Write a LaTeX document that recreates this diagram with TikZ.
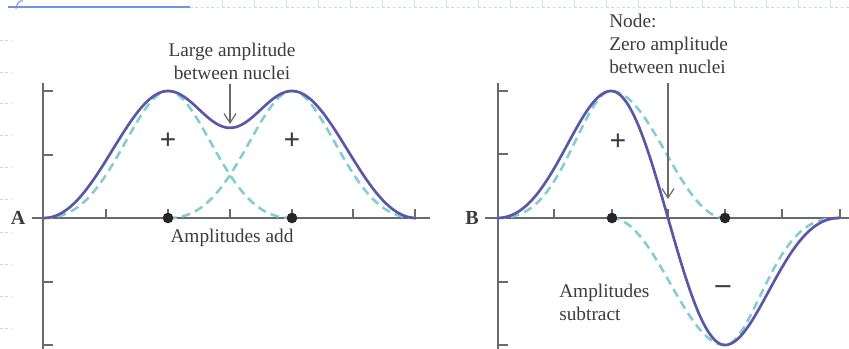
\documentclass[tikz,border=0pt]{standalone}
\usepackage{fontspec}
\setmainfont{Liberation Serif}
\usetikzlibrary{arrows.meta}
\definecolor{axisgray}{HTML}{6A6A6A}
\definecolor{txtgray}{HTML}{3C3C3C}
\definecolor{solidc}{HTML}{5A56A8}
\definecolor{dashc}{HTML}{82CDD3}
\definecolor{gridc}{HTML}{C9D6F4}
\definecolor{penc}{HTML}{7292EA}
\tikzset{
  axisline/.style={draw=axisgray,line width=1.4pt},
  tickline/.style={draw=axisgray,line width=1.1pt},
  solidcurve/.style={draw=solidc,line width=2pt},
  dashcurve/.style={draw=dashc,line width=1.9pt,dash pattern=on 6.5pt off 4pt},
  lbl/.style={text=txtgray,font=\fontsize{14.5}{17.2}\selectfont,inner sep=0pt},
  signlbl/.style={text=txtgray,font=\bfseries\fontsize{22}{22}\selectfont,inner sep=0pt},
  plabel/.style={text=txtgray,font=\bfseries\fontsize{15}{17}\selectfont,inner sep=0pt},
  pointer/.style={draw=axisgray,line width=0.9pt,-{Straight Barb[length=7pt,width=9pt]}},
  nucleus/.style={circle,fill=black!85,minimum size=8pt,inner sep=0pt},
  gridline/.style={draw=gridc,line width=0.6pt,dash pattern=on 2pt off 2pt},
}
\begin{document}
\begin{tikzpicture}[x=0.75pt,y=-0.75pt,
  declare function={
    sv(\u)=min(abs(\u)/2,1);
    bump(\u,\k)=(1+cos(180*(sv(\u)+\k*sv(\u)*(1-sv(\u)))))/2;
    dA(\u)=bump(\u,0.417);
    dB(\u)=(\u<0)*bump(\u,0.558)+(\u>=0)*bump(\u,0.04);
    sA(\x)=(abs(\x)<1)*(0.855+0.145*cos(180*(1-abs(\x))))+(abs(\x)>=1)*bump(abs(\x)-1,0.12);
    sB(\x)=(abs(\x)<1)*(-sin(90*\x))+(abs(\x)>=1)*((\x<0)-(\x>0))*bump(abs(\x)-1,0.286);
  }]
\useasboundingbox (0,0) rectangle (849,349);
% faint background artifacts
\draw[gridline] (190,7) -- (849,7);
\foreach \xx in {222,254,286,318,350,382,414,446,478,510,542,574,606,638,670,702,734,766,798,830}
  \draw[gridline] (\xx,0) -- (\xx,7);
\foreach \yy in {40,72,103,135,167,199,232,264,296,328}
  \draw[gridline] (0,\yy) -- (12,\yy);
\draw[draw=penc,line width=0.9pt] (8,7) -- (190,7);
\draw[draw=penc,line width=0.8pt] (16,9) .. controls (17,2) and (20,0) .. (23,1);

% ================= Panel A =================
\draw[axisline] (43,83) -- (43,349);
\draw[axisline] (32,218) -- (430,218);
\foreach \yy in {91,155,282,345} \draw[tickline] (43,\yy) -- (53,\yy);
\foreach \xx in {106,168,230,292,353,415} \draw[tickline] (\xx,218) -- (\xx,209);
% dashed atomic orbitals
\draw[dashcurve] plot[domain=-3:1,samples=121,smooth] ({230+62*\x},{218-127*dA(\x+1)});
\draw[dashcurve] plot[domain=-1:3,samples=121,smooth] ({230+62*\x},{218-127*dA(\x-1)});
% bonding combination
\draw[solidcurve] plot[domain=-3:3,samples=201,smooth] ({230+62*\x},{218-127*sA(\x)});
\node[nucleus] (nA1) at (168,218) {};
\node[nucleus] (nA2) at (292,218) {};
\node[plabel] (labA) at (18,218) {A};
\node[lbl,align=center] (txtA) at (232,61) {Large amplitude\\between nuclei};
\coordinate (tipA) at (230,124);
\draw[pointer] (230,84) -- (tipA);
\node[signlbl] (plusA1) at (168,141) {+};
\node[signlbl] (plusA2) at (292,141) {+};
\node[lbl] (addA) at (232,238) {Amplitudes add};

% ================= Panel B =================
\draw[axisline] (498,83) -- (498,349);
\draw[axisline] (485,218) -- (849,218);
\foreach \yy in {91,154,282,345} \draw[tickline] (498,\yy) -- (508,\yy);
\foreach \xx in {554,612,668,725,782,840} \draw[tickline] (\xx,218) -- (\xx,209);
\draw[dashcurve] plot[domain=-3:1,samples=121,smooth] ({668+57*\x},{218-127*dB(\x+1)});
\draw[dashcurve] plot[domain=-1:3,samples=121,smooth] ({668+57*\x},{218+127*dB(1-\x)});
\draw[solidcurve] plot[domain=-3:3,samples=201,smooth] ({668+57*\x},{218-127*sB(\x)});
\node[nucleus] (nB1) at (612,218) {};
\node[nucleus] (nB2) at (725,218) {};
\node[plabel] (labB) at (472,218) {B};
\node[lbl,align=left,anchor=west] (txtB) at (609,44) {Node:\\Zero amplitude\\between nuclei};
\coordinate (tipB) at (668,199);
\draw[pointer] (668,83) -- (tipB);
\node[signlbl] (plusB) at (618,142) {+};
\node[signlbl] (minusB) at (723,290) {\textendash};
\node[lbl,align=left,anchor=west] (subB) at (559,302) {Amplitudes\\subtract};
\end{tikzpicture}
\end{document}
